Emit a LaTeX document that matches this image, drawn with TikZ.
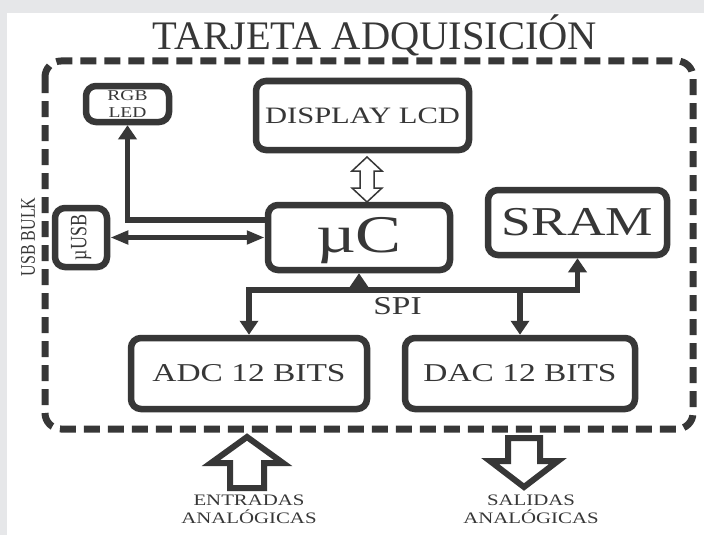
\documentclass[tikz,border=0pt]{standalone}
\usepackage{fontspec}
\setmainfont{Liberation Serif}
\usepackage{graphicx}
\usetikzlibrary{arrows.meta,calc}
\definecolor{InkClr}{HTML}{373737}
\definecolor{PageClr}{HTML}{E6E7E9}
\newcommand{\wide}[1]{\scalebox{1.3}[1]{#1}}
\newcommand{\tall}[1]{\scalebox{1}[1.3]{#1}}

\begin{document}
\begin{tikzpicture}[x=1pt,y=-1pt,
  blk/.style={draw=InkClr,line width=6.5pt,rounded corners=10pt,inner sep=0pt,
    align=center,text=InkClr},
  conn/.style={draw=InkClr,line width=5.5pt,line join=miter,
    >={Triangle[width=18pt,length=14pt]}},
  hconn/.style={conn,>={Triangle[width=13pt,length=18pt]}},
  lbl/.style={inner sep=0pt,align=center,text=InkClr},
  bigarrow/.style={draw=InkClr,line width=6pt,line join=miter,fill=white},
  framebox/.style={draw=InkClr,line width=7pt,rounded corners=16pt,
    dash pattern=on 16pt off 8pt}]
\useasboundingbox (0,0) rectangle (704,535);
\fill[PageClr] (0,0) rectangle (704,535);
\fill[white] (7,13) rectangle (704,535);

% card outline and title
\draw[framebox] (45,61) rectangle (693,429);
\node[lbl,anchor=base,font=\fontsize{40.5}{44}\selectfont] (title) at (375,50) {TARJETA ADQUISICIÓN};
\node[lbl,rotate=90,font=\fontsize{16}{18}\selectfont] (bulk) at (28,237) {\tall{USB BULK}};

% blocks
\node[blk,minimum width=83pt,minimum height=36pt,font=\fontsize{15}{17}\selectfont] (rgb) at (127.5,104)
  {\wide{RGB}\\\wide{LED}};
\node[blk,minimum width=213pt,minimum height=69pt,font=\fontsize{23.5}{26}\selectfont] (lcd) at (362.5,115.5)
  {\wide{DISPLAY LCD}};
\node[blk,minimum width=182pt,minimum height=65pt,text depth=5pt,font=\fontsize{53}{56}\selectfont] (mcu) at (359,237.5)
  {\wide{µC}};
\node[blk,minimum width=179pt,minimum height=65pt,font=\fontsize{41}{44}\selectfont] (sram) at (577.5,222.5)
  {\wide{SRAM}};
\node[blk,minimum width=52pt,minimum height=59pt] (usb) at (81,237.5) {};
\node[lbl,rotate=90,font=\fontsize{18}{20}\selectfont] (usbtxt) at (usb) {\tall{µUSB}};
\node[blk,minimum width=236pt,minimum height=71pt,font=\fontsize{25.7}{28}\selectfont] (adc) at (249,373.5)
  {\wide{ADC 12 BITS}};
\node[blk,minimum width=230pt,minimum height=71pt,font=\fontsize{25.7}{28}\selectfont] (dac) at (520,373.5)
  {\wide{DAC 12 BITS}};

% links
\draw[conn,->] (mcu.west |- 0,220) -| (rgb.south);
\draw[hconn,<->] (usb.east) -- (usb.east -| mcu.west);
\draw[draw=InkClr,line width=1.5pt,line join=miter,fill=white]
  (367,157) -- (382,171) -- (374,171) -- (374,188) -- (382,188) -- (367,202)
  -- (352,188) -- (360,188) -- (360,171) -- (352,171) -- cycle;

% SPI bus
\coordinate (busL) at (adc.north |- 0,290);
\draw[conn,<->] (adc.north) -- (busL) -| (sram.south);
\draw[conn,->] (mcu.south |- busL) -- (mcu.south);
\draw[conn,->] (dac.north |- busL) -- (dac.north);
\node[lbl,font=\fontsize{25.7}{28}\selectfont] (spi) at (397.5,306.5) {\wide{SPI}};

% analog in / out
\draw[bigarrow] (247,437) -- (283,463) -- (264,463) -- (264,488) -- (230,488)
  -- (230,463) -- (211,463) -- cycle;
\draw[bigarrow] (508,438) -- (540,438) -- (540,461) -- (558,461) -- (524,487)
  -- (490,461) -- (508,461) -- cycle;
\node[lbl,font=\fontsize{16}{18}\selectfont] (inlbl) at (249,509) {\wide{ENTRADAS}\\\wide{ANALÓGICAS}};
\node[lbl,font=\fontsize{16}{18}\selectfont] (outlbl) at (531,509) {\wide{SALIDAS}\\\wide{ANALÓGICAS}};

\end{tikzpicture}
\end{document}
